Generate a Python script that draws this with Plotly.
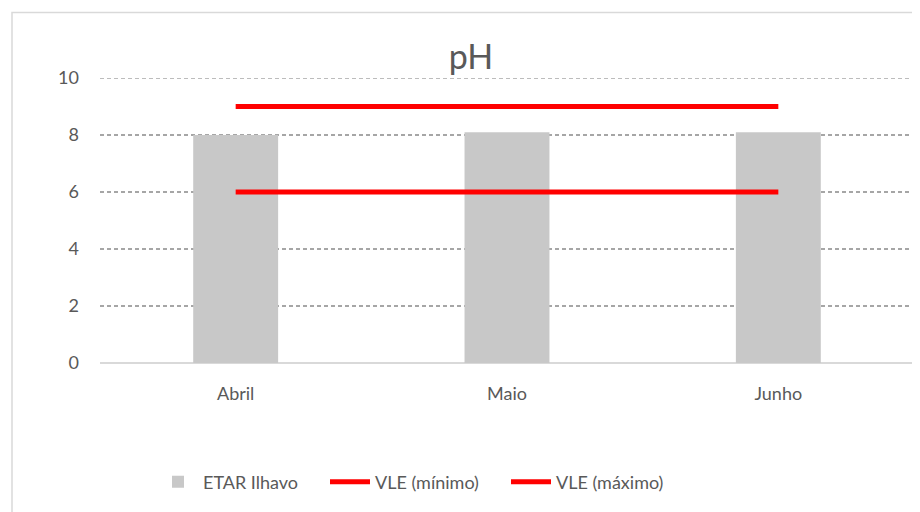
import plotly.graph_objects as go

categories = ["Abril", "Maio", "Junho"]
etar_values = [8.0, 8.1, 8.1]
vle_min = [6, 6, 6]
vle_max = [9, 9, 9]
y_ticks = [0, 2, 4, 6, 8, 10]

OFF = 8  # body margin of the html page
W, H = 920 - OFF, 512 - OFF
L, R, T, B = 100 - OFF, 6, 78 - OFF, 149
pw = W - L - R
ph = H - T - B

font_family = "Lato, 'Open Sans', sans-serif"
txt = "#595959"
grid_col = "#a6a6a6"

fig = go.Figure()
fig.add_trace(go.Bar(x=categories, y=etar_values, name="ETAR Ilhavo", legend="legend",
                     marker=dict(color="#c8c8c8", line=dict(width=0)), width=0.313))
fig.add_trace(go.Scatter(x=categories, y=vle_min, name="VLE (mínimo)", mode="lines",
                         legend="legend2", line=dict(color="#ff0000", width=5)))
fig.add_trace(go.Scatter(x=categories, y=vle_max, name="VLE (máximo)", mode="lines",
                         legend="legend3", line=dict(color="#ff0000", width=5)))

def px_x(px):
    return (px - OFF - L) / pw

def px_y(py):
    return (H - B - (py - OFF)) / ph

# chart-area border
fig.add_shape(type="rect", xref="paper", yref="paper",
              x0=px_x(12), x1=px_x(935),
              y0=px_y(530), y1=px_y(12.5),
              line=dict(color="#d9d9d9", width=1.5), fillcolor="rgba(0,0,0,0)", layer="below")
# top gridline (at the axis edge, hidden by plotly)
fig.add_shape(type="line", xref="paper", yref="y", x0=0, x1=1, y0=y_ticks[-1], y1=y_ticks[-1],
              line=dict(color=grid_col, width=1.5, dash="4px,3px"), layer="below")

def legend_at(text_start_px):
    return dict(orientation="h", x=(text_start_px - OFF - 50) / W, xref="container",
                xanchor="left", y=1 - (482 - OFF) / H, yref="container", yanchor="middle",
                font=dict(size=18, color=txt), itemwidth=40, bgcolor="rgba(0,0,0,0)")

fig.update_layout(
    width=W, height=H,
    margin=dict(l=L, r=R, t=T, b=B),
    paper_bgcolor="white", plot_bgcolor="white",
    font=dict(family=font_family, color=txt, size=18),
    title=dict(text="pH", x=(471 - OFF) / W, xanchor="center",
               y=1 - (57 - OFF) / H, yanchor="middle",
               font=dict(size=34, color=txt, family=font_family)),
    showlegend=True,
    legend=legend_at(203),
    legend2=legend_at(375),
    legend3=legend_at(556),
    bargap=0.687,
)
fig.update_xaxes(showgrid=False, showline=False, ticks="", tickfont=dict(size=18, color=txt),
                 ticklabelstandoff=18)
fig.update_yaxes(range=[0, 10], tickvals=y_ticks, showgrid=True, gridcolor=grid_col,
                 griddash="4px,3px", gridwidth=1.5, zeroline=True, zerolinecolor="#d9d9d9",
                 zerolinewidth=1.5, showline=False, tickfont=dict(size=18, color=txt),
                 ticklabelstandoff=20)

fig.write_html("out.html")
